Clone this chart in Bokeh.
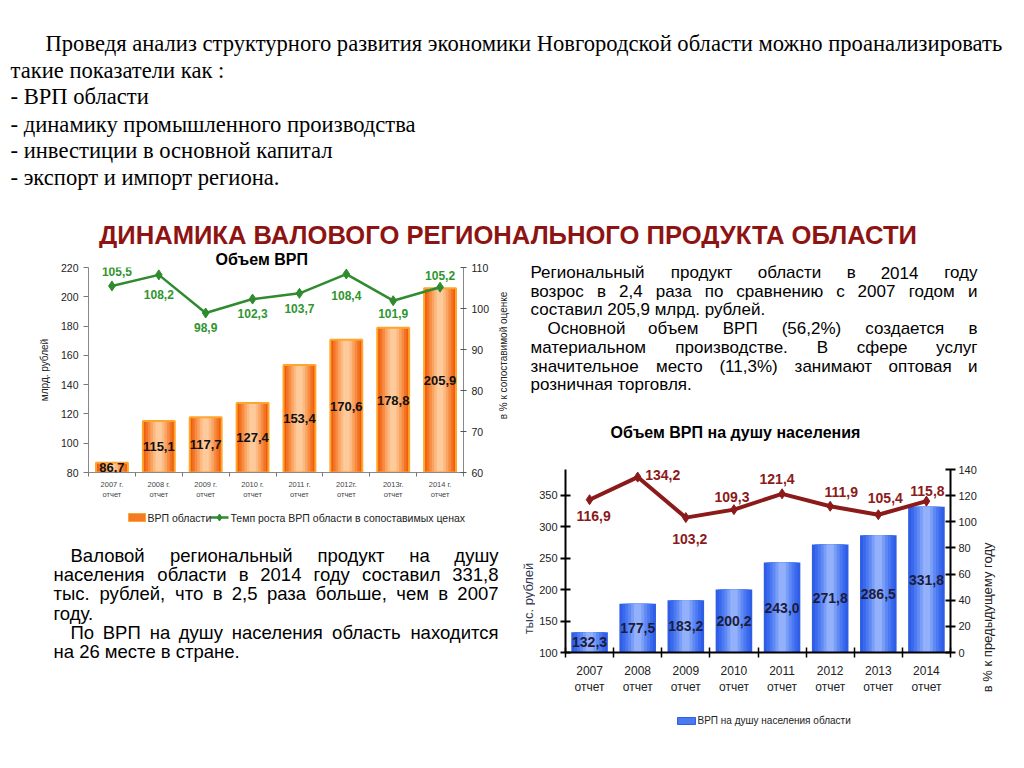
from math import pi
from bokeh.plotting import figure
from bokeh.models import (Range1d, LinearAxis, FixedTicker, LabelSet, ColumnDataSource)
from bokeh.layouts import column, row
from bokeh.embed import file_html
from bokeh.resources import INLINE
from bokeh.core.properties import value

# ---------------- data ----------------
years = ["2007", "2008", "2009", "2010", "2011", "2012", "2013", "2014"]
grp = [86.7, 115.1, 117.7, 127.4, 153.4, 170.6, 178.8, 205.9]
grp_growth = [105.5, 108.2, 98.9, 102.3, 103.7, 108.4, 101.9, 105.2]
grp_pc = [132.3, 177.5, 183.2, 200.2, 243.0, 271.8, 286.5, 331.8]
grp_pc_growth = [116.9, 134.2, 103.2, 109.3, 121.4, 111.9, 105.4, 115.8]
ticks1 = ["2007 г.\nотчет", "2008 г.\nотчет", "2009 г.\nотчет", "2010 г.\nотчет",
          "2011 г.\nотчет", "2012г.\nотчет", "2013г.\nотчет", "2014 г.\nотчет"]
ticks2 = [y + "\nотчет" for y in years]

intro_lines = [
    "Проведя анализ структурного развития экономики Новгородской области можно проанализировать",
    "такие показатели как :",
    "- ВРП области",
    "- динамику промышленного производства",
    "- инвестиции в основной капитал",
    "- экспорт и импорт региона.",
]
heading = "ДИНАМИКА ВАЛОВОГО РЕГИОНАЛЬНОГО ПРОДУКТА ОБЛАСТИ"
right_lines = [
    ("Региональный продукт области в 2014 году", True, 0),
    ("возрос в 2,4 раза по сравнению с 2007 годом и", True, 0),
    ("составил 205,9 млрд. рублей.", False, 0),
    ("Основной объем ВРП (56,2%) создается в", True, 17),
    ("материальном производстве. В сфере услуг", True, 0),
    ("значительное место (11,3%) занимают оптовая и", True, 0),
    ("розничная торговля.", False, 0),
]
left_lines = [
    ("Валовой региональный продукт на душу", True, 17),
    ("населения области в 2014 году составил 331,8", True, 0),
    ("тыс. рублей, что в 2,5 раза больше, чем в 2007", True, 0),
    ("году.", False, 0),
    ("По ВРП на душу населения  область находится", True, 17),
    ("на 26 месте в стране.", False, 0),
]
legend1_labels = ["ВРП области", "Темп роста ВРП области в сопоставимых ценах"]
legend2_label = "ВРП на душу населения  области"

def fmt(v):
    return f"{v:.1f}".replace(".", ",")

SANS = "Liberation Sans"

# ---------------- helpers ----------------
CW = {"а": .556, "б": .573, "в": .531, "г": .365, "д": .583, "е": .556, "ж": .669, "з": .458,
      "и": .559, "й": .559, "к": .438, "л": .583, "м": .688, "н": .552, "о": .556, "п": .542,
      "р": .556, "с": .5, "т": .458, "у": .5, "ф": .823, "х": .5, "ц": .583, "ч": .521,
      "ш": .802, "щ": .823, "ъ": .625, "ы": .719, "ь": .521, "э": .51, "ю": .75, "я": .542,
      ".": .278, ",": .278, "(": .333, ")": .333, "%": .889}

def char_w(c):
    if c in CW:
        return CW[c]
    if c.isdigit():
        return 0.556
    if c.isupper():
        return 0.7
    return 0.55

def text_fig(x0, x1, y0, y1):
    f = figure(width=x1 - x0, height=y1 - y0, x_range=Range1d(x0, x1),
               y_range=Range1d(y1, y0), output_backend="svg", toolbar_location=None,
               min_border=0, x_axis_location=None, y_axis_location=None)
    f.grid.visible = False
    f.outline_line_color = None
    return f

def put_lines(f, lines, x0, x1, y_start, dy, size, color="black"):
    xs_, ys_, ts_, al_ = [], [], [], []
    for i, (line, just, indent) in enumerate(lines):
        y = y_start + i * dy
        words = line.split()
        if not just or len(words) < 2:
            xs_.append(x0 + indent); ys_.append(y); ts_.append(line); al_.append("left")
            continue
        widths = [sum(char_w(c) for c in w) * size for w in words]
        left = x0 + indent
        gap = (x1 - left - sum(widths)) / (len(words) - 1)
        pos = left
        for k, (w, wd) in enumerate(zip(words, widths)):
            if k == 0:
                xs_.append(left); al_.append("left")
            elif k == len(words) - 1:
                xs_.append(x1); al_.append("right")
            else:
                xs_.append(pos + wd / 2); al_.append("center")
            ys_.append(y); ts_.append(w)
            pos += wd + gap
    src = ColumnDataSource(dict(x=xs_, y=ys_, text=ts_, align=al_))
    f.text(x="x", y="y", text="text", source=src, text_align="align",
           text_baseline="middle", text_font=value(SANS), text_font_size=f"{size}px",
           text_color=color)

def vlabel(x0, x1, y0, y1, x, y, text, size, color):
    f = text_fig(x0, x1, y0, y1)
    f.text(x=[x], y=[y], text=[text], angle=pi / 2, text_font=value(SANS),
           text_font_size=size, text_align="center", text_baseline="middle",
           text_color=color)
    return f

def style_axis(a, color, tick_color, size, standoff, t_in, t_out, width=1):
    a.axis_line_color = color
    a.axis_line_width = width
    a.major_tick_line_color = tick_color
    a.major_tick_line_width = width if width > 1 else 1
    a.major_tick_in = t_in
    a.major_tick_out = t_out
    a.minor_tick_line_color = None
    a.major_label_text_font = SANS
    a.major_label_text_font_size = size
    a.major_label_text_color = "#222222"
    a.major_label_standoff = standoff

# ---------------- top text ----------------
top = text_fig(0, 1016, 0, 248)
top.text(x=[45] + [10] * 5, y=[43, 70, 96, 124, 150, 177], text=intro_lines,
         text_font=value("Liberation Serif"), text_font_size="22.6px",
         text_baseline="middle", text_align="left", text_color="black")
top.text(x=[507.5], y=[234], text=[heading], text_font=value(SANS), text_font_size="25.6px",
         text_font_style="bold", text_color="#8e1414", text_align="center",
         text_baseline="middle")

# ---------------- chart 1 ----------------
xs = [i + 0.5 for i in range(len(years))]
p1 = figure(width=495, height=254, x_range=Range1d(0, len(years)), y_range=Range1d(80, 220),
            output_backend="svg", toolbar_location=None, min_border_left=88,
            min_border_right=32, min_border_top=19, min_border_bottom=27,
            title="Объем ВРП")
p1.title.align = "left"
p1.title.offset = 127
p1.title.standoff = 0
p1.title.text_font = SANS
p1.title.text_font_size = "16px"
p1.title.text_font_style = "bold"
p1.title.text_color = "black"
p1.extra_y_ranges = {"pct": Range1d(60, 110)}
p1.grid.visible = False
p1.outline_line_color = None

orange = ["#ef5c0a", "#f37326", "#f78b42", "#faa462", "#fcba82", "#fdca9c"]
bw1 = 0.68
for k, col in enumerate(orange):
    p1.vbar(x=xs, top=grp, bottom=80, width=bw1 * (1 - k * 0.16), fill_color=col,
            line_color=None)
p1.vbar(x=xs, top=grp, bottom=80, width=bw1, fill_alpha=0, line_color="#ffa52b", line_width=2)

p1.line(xs, grp_growth, y_range_name="pct", line_color="#2e8b2e", line_width=2.5)
p1.scatter(xs, grp_growth, y_range_name="pct", marker="diamond", size=10,
           fill_color="#2e8b2e", line_color="#2e8b2e")

mid1 = [(v + 80) / 2 for v in grp]
p1.add_layout(LabelSet(source=ColumnDataSource(dict(x=xs, y=mid1, t=[fmt(v) for v in grp])),
                       x="x", y="y", text="t", text_align="center", text_baseline="middle",
                       text_font=value(SANS), text_font_size="13px", text_font_style="bold",
                       text_color="#111111"))
dy1 = [14, -20, -14, -14, -15, -21, -13, 12]
dx1 = [5, 0, 0, 0, 0, 0, 0, 0]
p1.add_layout(LabelSet(source=ColumnDataSource(dict(x=xs, y=grp_growth, t=[fmt(v) for v in grp_growth],
                                                    dx=dx1, dy=dy1)),
                       x="x", y="y", text="t", x_offset="dx", y_offset="dy", y_range_name="pct",
                       text_align="center", text_baseline="middle", text_font=value(SANS),
                       text_font_size="12px", text_font_style="bold", text_color="#2f952f"))

ax = p1.xaxis[0]
style_axis(ax, "#888888", "#777777", "7.5px", 3, 0, 0)
ax.ticker = FixedTicker(ticks=xs, minor_ticks=list(range(len(years) + 1)))
ax.major_label_overrides = {x: t for x, t in zip(xs, ticks1)}
ax.minor_tick_in = 0
ax.minor_tick_out = 4
ax.minor_tick_line_color = "#777777"
ax.major_label_text_color = "#444444"

ay = p1.yaxis[0]
ay.ticker = FixedTicker(ticks=list(range(80, 221, 20)))
style_axis(ay, "#888888", "#777777", "10.5px", 5, 0, 5)
ay.axis_label = "млрд. рублей"
ay.axis_label_text_font = SANS
ay.axis_label_text_font_size = "10px"
ay.axis_label_text_font_style = "normal"
ay.axis_label_text_color = "#222222"
ay.axis_label_standoff = 8

ar = LinearAxis(y_range_name="pct", ticker=FixedTicker(ticks=list(range(60, 111, 10))))
style_axis(ar, "#888888", "#555555", "10.5px", 5, 3, 3)
p1.add_layout(ar, "right")

lbl1 = vlabel(495, 515, 248, 502, 503, 355, "в % к сопоставимой оценке", "10px", "#222222")

# ---------------- left text (+ legend of chart 1) ----------------
lt = text_fig(0, 515, 502, 760)
lt.quad(left=[128], right=[145], bottom=[521], top=[513], fill_color="#f47a2a",
        line_color="#ffa52b")
lt.line(x=[210, 228], y=[517, 517], line_color="#2e8b2e", line_width=2.5)
lt.scatter(x=[219], y=[517], marker="diamond", size=7, fill_color="#2e8b2e",
           line_color="#2e8b2e")
lt.text(x=[147, 230], y=[517, 517], text=legend1_labels, text_font=value(SANS),
        text_font_size="10.5px", text_baseline="middle", text_align="left",
        text_color="#222222")
put_lines(lt, left_lines, 53, 498, 555, 19.2, 18.5)

# ---------------- right text (+ title of chart 2) ----------------
rt = text_fig(515, 1016, 248, 446)
put_lines(rt, right_lines, 530, 977, 272, 18.7, 17)
rt.text(x=[735], y=[432], text=["Объем ВРП на душу населения"], text_font=value(SANS),
        text_font_size="16px", text_font_style="bold", text_align="center",
        text_baseline="middle", text_color="black")

# ---------------- chart 2 ----------------
p2 = figure(width=444, height=259, x_range=Range1d(0, len(years)), y_range=Range1d(100, 391),
            output_backend="svg", toolbar_location=None, min_border_left=30,
            min_border_right=27, min_border_top=23, min_border_bottom=53)
p2.extra_y_ranges = {"pct": Range1d(0, 140)}
p2.grid.visible = False
p2.outline_line_color = None

blue = ["#2f5de6", "#3a69ee", "#4b79f2", "#5f8af5", "#7a9ef8", "#93b1fb"]
bw2 = 0.76
for k, col in enumerate(blue):
    p2.vbar(x=xs, top=grp_pc, bottom=100, width=bw2 * (1 - k * 0.16), fill_color=col,
            line_color=None)

p2.line(xs, grp_pc_growth, y_range_name="pct", line_color="#8b1a1a", line_width=4)
p2.scatter(xs, grp_pc_growth, y_range_name="pct", marker="diamond", size=10,
           fill_color="#8b1a1a", line_color="#8b1a1a")

mid2 = [(v + 100) / 2 for v in grp_pc]
p2.add_layout(LabelSet(source=ColumnDataSource(dict(x=xs, y=mid2, t=[fmt(v) for v in grp_pc])),
                       x="x", y="y", text="t", text_align="center", text_baseline="middle",
                       text_font=value(SANS), text_font_size="14px", text_font_style="bold",
                       text_color="#1c1c3c"))
dy2 = [-16, 2, -21, 13, 15, 14, 17, 10]
dx2 = [4, 25, 4, -2, -5, 11, 7, 1]
p2.add_layout(LabelSet(source=ColumnDataSource(dict(x=xs, y=grp_pc_growth,
                                                    t=[fmt(v) for v in grp_pc_growth],
                                                    dx=dx2, dy=dy2)),
                       x="x", y="y", text="t", x_offset="dx", y_offset="dy", y_range_name="pct",
                       text_align="center", text_baseline="middle", text_font=value(SANS),
                       text_font_size="14px", text_font_style="bold", text_color="#8b1a1a"))

bx = p2.xaxis[0]
style_axis(bx, "black", "black", "12px", 6, 0, 0, width=2)
bx.ticker = FixedTicker(ticks=xs, minor_ticks=list(range(len(years) + 1)))
bx.major_label_overrides = {x: t for x, t in zip(xs, ticks2)}
bx.minor_tick_in = 5
bx.minor_tick_out = 5
bx.minor_tick_line_color = "black"
bx.minor_tick_line_width = 1.5

by = p2.yaxis[0]
by.ticker = FixedTicker(ticks=list(range(100, 351, 50)))
style_axis(by, "black", "black", "11px", 3, 5, 5, width=2)

br = LinearAxis(y_range_name="pct", ticker=FixedTicker(ticks=list(range(0, 141, 20))))
style_axis(br, "black", "black", "11px", 3, 5, 5, width=2)
p2.add_layout(br, "right")

lbl2l = vlabel(515, 535, 446, 705, 528, 598, "тыс. рублей", "13px", "#333a55")
lbl2r = vlabel(979, 1016, 446, 705, 987, 615, "в % к предыдущему  году", "13px", "#222222")

# ---------------- legend of chart 2 ----------------
lg2 = text_fig(515, 1016, 705, 760)
lg2.quad(left=[677], right=[695], bottom=[724], top=[717], fill_color="#4b79f2",
         line_color="#2f5de6")
lg2.text(x=[697], y=[720], text=[legend2_label], text_font=value(SANS),
         text_font_size="10px", text_baseline="middle", text_align="left",
         text_color="#222222")

left_col = column(row(p1, column(lbl1)), row(lt))
right_col = column(row(rt), row(column(lbl2l), p2, column(lbl2r)), row(lg2))
layout = column(top, row(left_col, right_col))
open("out.html", "w").write(file_html(layout, INLINE))
